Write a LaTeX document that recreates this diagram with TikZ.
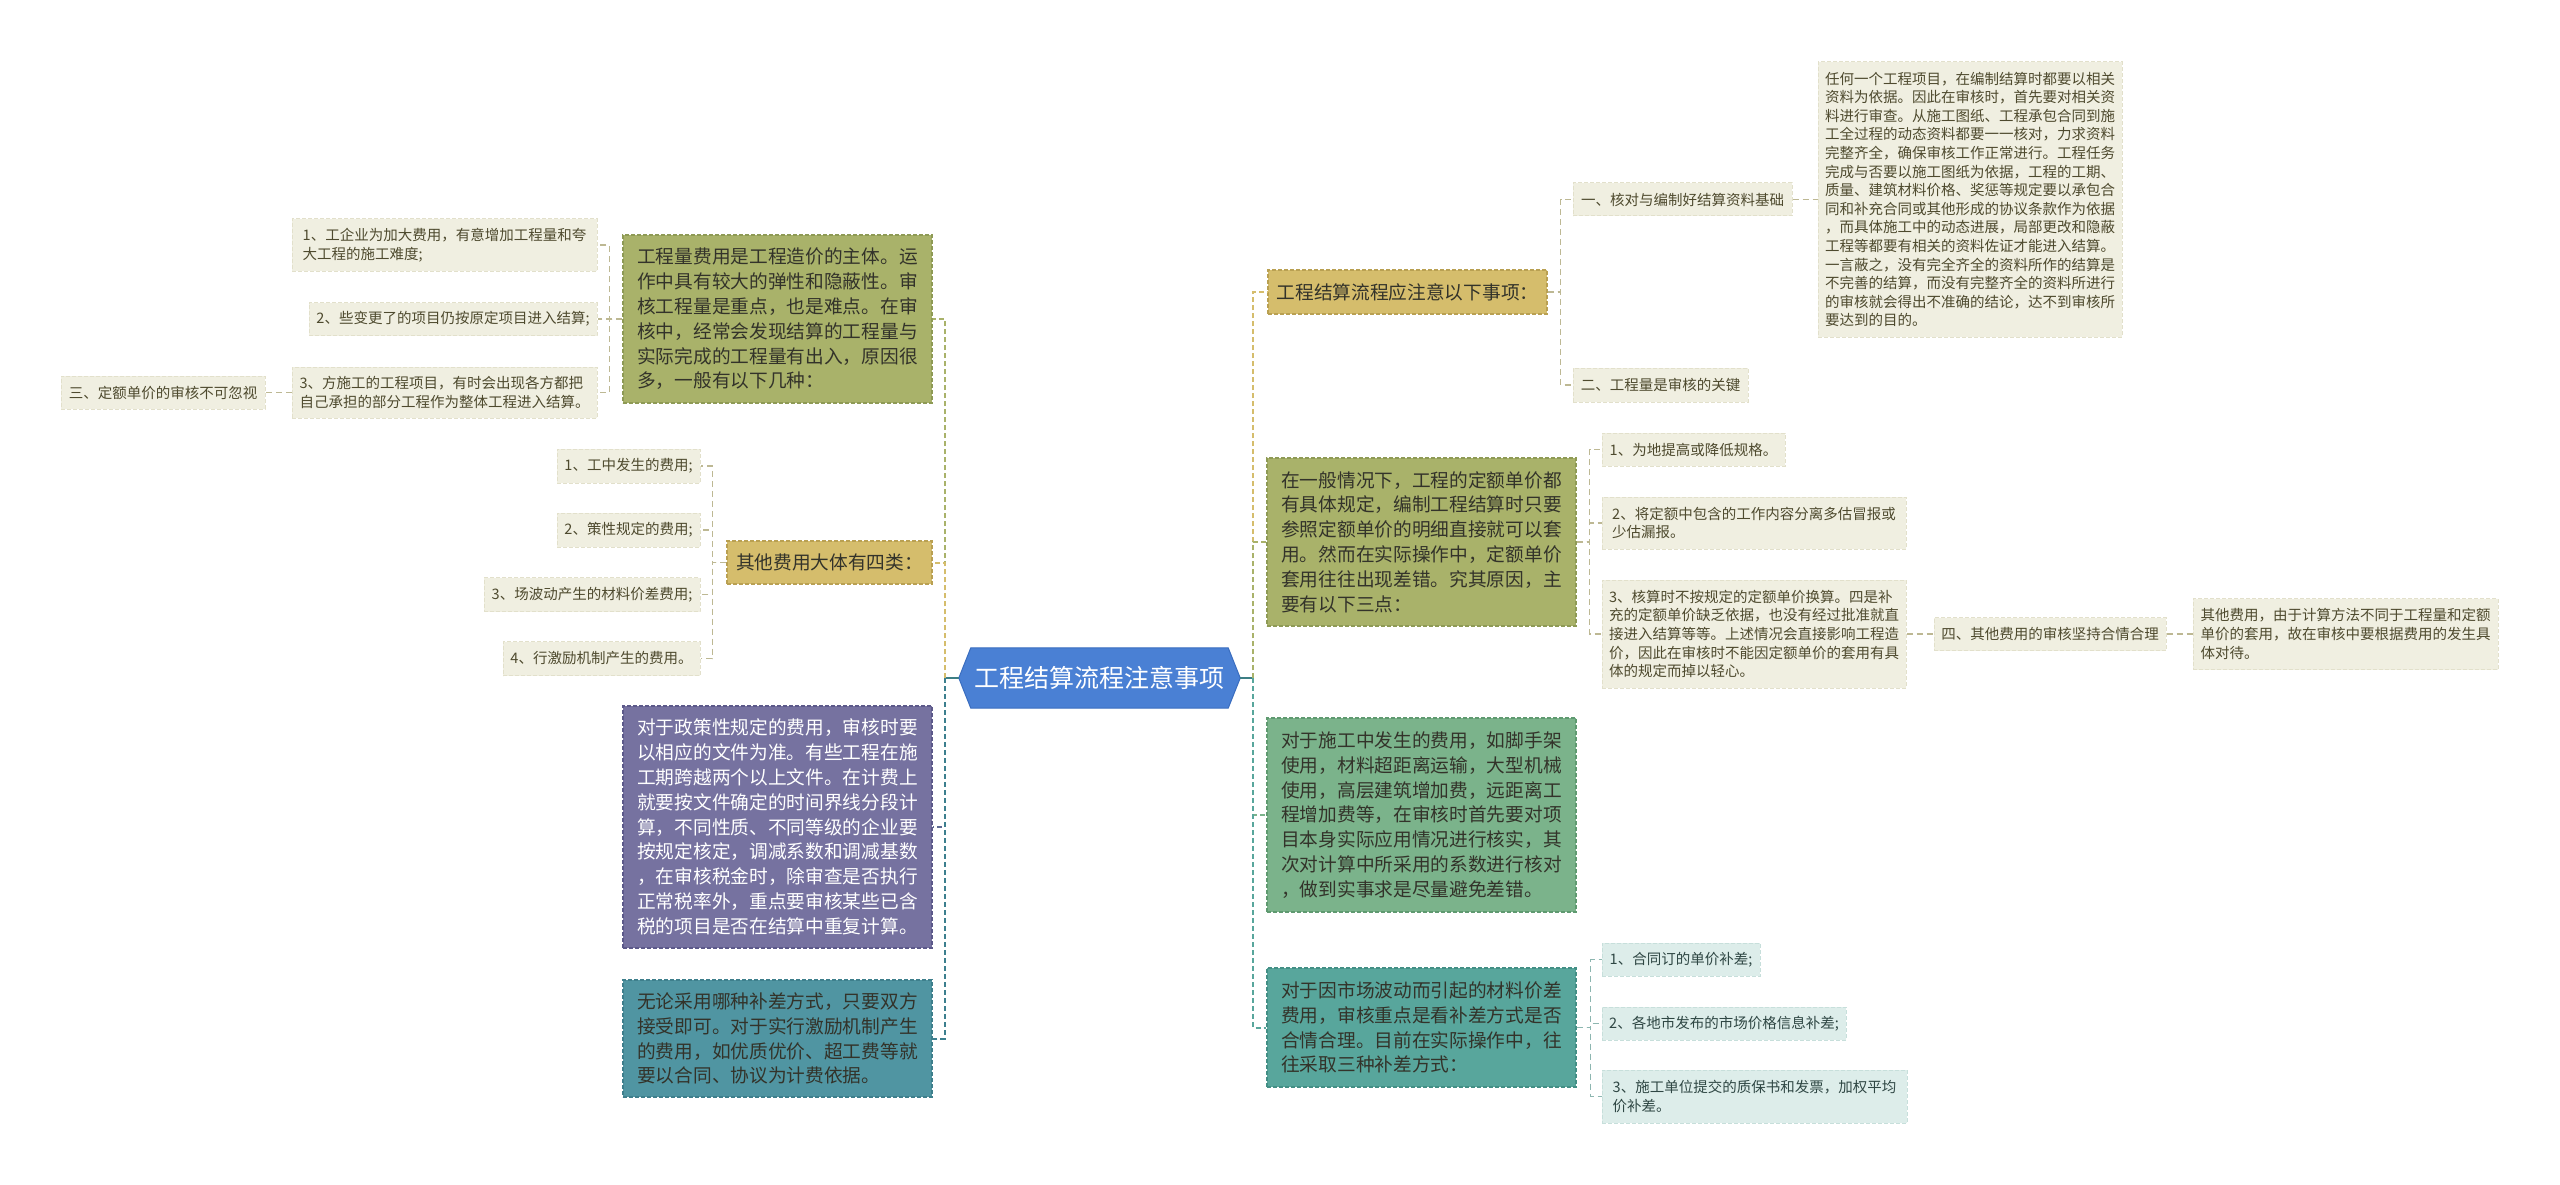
\documentclass[tikz,border=0pt]{standalone}
\usepackage{fontspec}
\setmainfont{Noto Sans CJK SC}
\usetikzlibrary{backgrounds}
\definecolor{olv}{HTML}{A9B26A}
\definecolor{olvB}{HTML}{8E9A55}
\definecolor{gld}{HTML}{D5BD6C}
\definecolor{gldB}{HTML}{B9A052}
\definecolor{prp}{HTML}{7672A0}
\definecolor{prpB}{HTML}{5C598A}
\definecolor{prpL}{HTML}{5E6A92}
\definecolor{tlD}{HTML}{5095A2}
\definecolor{tlDB}{HTML}{3E7F8C}
\definecolor{tlDL}{HTML}{3C7F8E}
\definecolor{grn}{HTML}{7BB38B}
\definecolor{grnB}{HTML}{5F9A70}
\definecolor{tlH}{HTML}{58A69C}
\definecolor{tlHB}{HTML}{438F85}
\definecolor{lf}{HTML}{F0EFE1}
\definecolor{lfB}{HTML}{E2E0CB}
\definecolor{lfT}{HTML}{4E4A2E}
\definecolor{lc}{HTML}{DDEDEA}
\definecolor{lcB}{HTML}{C7DFDB}
\definecolor{lcT}{HTML}{2F4744}
\definecolor{hexf}{HTML}{4A80D4}
\definecolor{hexb}{HTML}{3A6DBF}
\definecolor{stubc}{HTML}{3D7F85}
\definecolor{lconn}{HTML}{BDB893}
\definecolor{hconn}{HTML}{8DB6B0}
\definecolor{dk}{HTML}{33332A}
\newcommand\fBig{\fontsize{18.7pt}{24.8pt}\selectfont}
\newcommand\fLeaf{\fontsize{14.5pt}{18.6pt}\selectfont}
\newcommand\fHex{\fontsize{25pt}{30pt}\selectfont}
\tikzset{
  x=1pt, y=-1pt,
  sz/.style n args={2}{minimum width=#1pt, minimum height=#2pt},
  box/.style={draw, dash pattern=on 4pt off 2pt, line width=1.2pt, align=left, inner sep=0pt, font=\fBig, anchor=center},
  leaf/.style={box, fill=lf, draw=lfB, text=lfT, font=\fLeaf, line width=1pt},
  leafc/.style={box, fill=lc, draw=lcB, text=lcT, font=\fLeaf, line width=1pt},
  hexnode/.style={inner sep=0pt, text=white, font=\fHex, anchor=center},
  trunk/.style={line width=2pt, dash pattern=on 5pt off 3pt},
  lconnS/.style={draw=lconn, line width=1.5pt, dash pattern=on 6pt off 4pt},
  hconnS/.style={draw=hconn, line width=1.5pt, dash pattern=on 6pt off 4pt},
  stubline/.style={draw=stubc, line width=2pt}
}
\begin{document}
\begin{tikzpicture}
\useasboundingbox (0,0) rectangle (2560,1185);
% centre
\node[hexnode, sz={281}{60}] (c) at (1099.5,678) {工程结算流程注意事项};

% ---------- left side ----------
\node[box, fill=olv, draw=olvB, text=dk, sz={309}{168}] (a) at (777.5,319)
 {工程量费用是工程造价的主体。运\\作中具有较大的弹性和隐蔽性。审\\核工程量是重点，也是难点。在审\\核中，经常会发现结算的工程量与\\实际完成的工程量有出入，原因很\\多，一般有以下几种：};
\node[leaf, sz={305}{52}] (a1) at (444.5,245) {1、工企业为加大费用，有意增加工程量和夸\\大工程的施工难度;};
\node[leaf, sz={288}{33}] (a2) at (453,319) {2、些变更了的项目仍按原定项目进入结算;};
\node[leaf, sz={305}{51}] (a3) at (444.5,392.5) {3、方施工的工程项目，有时会出现各方都把\\自己承担的部分工程作为整体工程进入结算。};
\node[leaf, sz={204}{33}] (a3c) at (163,392.5) {三、定额单价的审核不可忽视};

\node[box, fill=gld, draw=gldB, text=dk, sz={205}{43}] (b) at (829.5,562.5) {其他费用大体有四类：};
\node[leaf, sz={143}{34}] (b1) at (628.5,466) {1、工中发生的费用;};
\node[leaf, sz={143}{34}] (b2) at (628.5,530) {2、策性规定的费用;};
\node[leaf, sz={216}{34}] (b3) at (592,594.5) {3、场波动产生的材料价差费用;};
\node[leaf, sz={197}{34}] (b4) at (601.5,658.5) {4、行激励机制产生的费用。};

\node[box, fill=prp, draw=prpB, text=white, sz={309}{242}] (cb) at (777.5,827)
 {对于政策性规定的费用，审核时要\\以相应的文件为准。有些工程在施\\工期跨越两个以上文件。在计费上\\就要按文件确定的时间界线分段计\\算，不同性质、不同等级的企业要\\按规定核定，调减系数和调减基数\\，在审核税金时，除审查是否执行\\正常税率外，重点要审核某些已含\\税的项目是否在结算中重复计算。};
\node[box, fill=tlD, draw=tlDB, text=dk, sz={309}{117}] (d) at (777.5,1038.5)
 {无论采用哪种补差方式，只要双方\\接受即可。对于实行激励机制产生\\的费用，如优质优价、超工费等就\\要以合同、协议为计费依据。};

% ---------- right side ----------
\node[box, fill=gld, draw=gldB, text=dk, sz={279}{44}] (e) at (1407.5,292) {工程结算流程应注意以下事项：};
\node[leaf, sz={219}{33}] (e1) at (1682.5,199.5) {一、核对与编制好结算资料基础};
\node[leaf, sz={304}{275}] (e1c) at (1970,199.5)
 {任何一个工程项目，在编制结算时都要以相关\\资料为依据。因此在审核时，首先要对相关资\\料进行审查。从施工图纸、工程承包合同到施\\工全过程的动态资料都要一一核对，力求资料\\完整齐全，确保审核工作正常进行。工程任务\\完成与否要以施工图纸为依据，工程的工期、\\质量、建筑材料价格、奖惩等规定要以承包合\\同和补充合同或其他形成的协议条款作为依据\\，而具体施工中的动态进展，局部更改和隐蔽\\工程等都要有相关的资料佐证才能进入结算。\\一言蔽之，没有完全齐全的资料所作的结算是\\不完善的结算，而没有完整齐全的资料所进行\\的审核就会得出不准确的结论，达不到审核所\\要达到的目的。};
\node[leaf, sz={175}{34}] (e2) at (1660.5,385) {二、工程量是审核的关键};

\node[box, fill=olv, draw=olvB, text=dk, sz={309}{168}] (f) at (1421.5,542)
 {在一般情况下，工程的定额单价都\\有具体规定，编制工程结算时只要\\参照定额单价的明细直接就可以套\\用。然而在实际操作中，定额单价\\套用往往出现差错。究其原因，主\\要有以下三点：};
\node[leaf, sz={183}{33}] (f1) at (1693.5,449.5) {1、为地提高或降低规格。};
\node[leaf, sz={304}{52}] (f2) at (1754,523) {2、将定额中包含的工作内容分离多估冒报或\\少估漏报。};
\node[leaf, sz={304}{108}] (f3) at (1754,634)
 {3、核算时不按规定的定额单价换算。四是补\\充的定额单价缺乏依据，也没有经过批准就直\\接进入结算等等。上述情况会直接影响工程造\\价，因此在审核时不能因定额单价的套用有具\\体的规定而掉以轻心。};
\node[leaf, sz={232}{33}] (f3c) at (2050,634) {四、其他费用的审核坚持合情合理};
\node[leaf, sz={305}{71}] (f3cc) at (2345.5,634)
 {其他费用，由于计算方法不同于工程量和定额\\单价的套用，故在审核中要根据费用的发生具\\体对待。};

\node[box, fill=grn, draw=grnB, text=dk, sz={309}{194}] (g) at (1421.5,815)
 {对于施工中发生的费用，如脚手架\\使用，材料超距离运输，大型机械\\使用，高层建筑增加费，远距离工\\程增加费等，在审核时首先要对项\\目本身实际应用情况进行核实，其\\次对计算中所采用的系数进行核对\\，做到实事求是尽量避免差错。};
\node[box, fill=tlH, draw=tlHB, text=dk, sz={309}{119}] (h) at (1421.5,1027.5)
 {对于因市场波动而引起的材料价差\\费用，审核重点是看补差方式是否\\合情合理。目前在实际操作中，往\\往采取三种补差方式：};
\node[leafc, sz={158}{33}] (h1) at (1681,959.5) {1、合同订的单价补差;};
\node[leafc, sz={244}{33}] (h2) at (1724,1023.5) {2、各地市发布的市场价格信息补差;};
\node[leafc, sz={305}{53}] (h3) at (1754.5,1096.5) {3、施工单位提交的质保书和发票，加权平均\\价补差。};

% ---------- connectors ----------
\draw[stubline] (c.west) -- ++(-14,0) coordinate (tl);
\draw[stubline] (c.east) -- ++(13,0) coordinate (tr);

\draw[trunk, draw=olv] (tl) |- (a.east);
\draw[trunk, draw=gld] (tl) |- (b.east);
\draw[trunk, draw=prpL] (tl) |- (cb.east);
\draw[trunk, draw=tlDL] (tl) |- (d.east);

\draw[trunk, draw=gld] (tr) |- (e.west);
\draw[trunk, draw=olv] (tr) |- (f.west);
\draw[trunk, draw=grn] (tr) |- (g.west);
\draw[trunk, draw=tlH] (tr) |- (h.west);

\draw[lconnS] (a.west) -- ++(-13,0) |- (a1.east);
\draw[lconnS] (a.west) -- ++(-13,0) |- (a2.east);
\draw[lconnS] (a.west) -- ++(-13,0) |- (a3.east);
\draw[lconnS] (a3.west) -- (a3c.east);

\draw[lconnS] (b.west) -- ++(-14,0) |- (b1.east);
\draw[lconnS] (b.west) -- ++(-14,0) |- (b2.east);
\draw[lconnS] (b.west) -- ++(-14,0) |- (b3.east);
\draw[lconnS] (b.west) -- ++(-14,0) |- (b4.east);

\draw[lconnS] (e.east) -- ++(13,0) |- (e1.west);
\draw[lconnS] (e.east) -- ++(13,0) |- (e2.west);
\draw[lconnS] (e1.east) -- (e1c.west);

\draw[lconnS] (f.east) -- ++(13,0) |- (f1.west);
\draw[lconnS] (f.east) -- ++(13,0) |- (f2.west);
\draw[lconnS] (f.east) -- ++(13,0) |- (f3.west);
\draw[lconnS] (f3.east) -- (f3c.west);
\draw[lconnS] (f3c.east) -- (f3cc.west);

\draw[hconnS] (h.east) -- ++(14,0) |- (h1.west);
\draw[hconnS] (h.east) -- ++(14,0) |- (h2.west);
\draw[hconnS] (h.east) -- ++(14,0) |- (h3.west);

\begin{scope}[on background layer]
\fill[white] (0,0) rectangle (2560,1185);
\filldraw[fill=hexf, draw=hexb, line width=1pt]
  (c.west) -- ([xshift=12pt]c.north west) -- ([xshift=-12pt]c.north east)
  -- (c.east) -- ([xshift=-12pt]c.south east) -- ([xshift=12pt]c.south west) -- cycle;
\end{scope}
\end{tikzpicture}
\end{document}
